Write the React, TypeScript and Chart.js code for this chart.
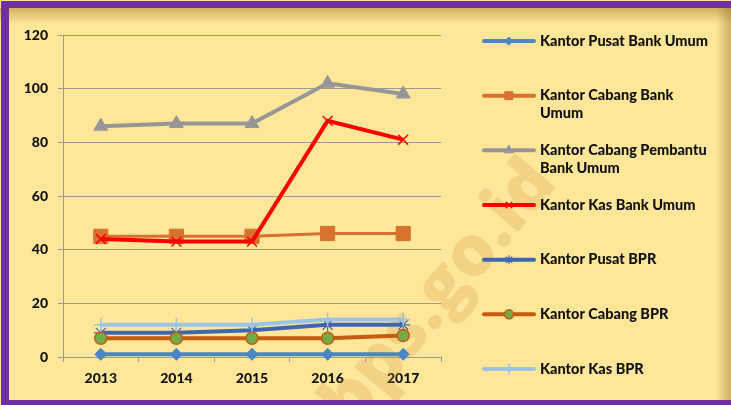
import React, { useEffect, useRef } from "react";
import { Chart, registerables } from "chart.js";
import { drawPoint } from "chart.js/helpers";

Chart.register(...registerables);

const years = ["2013", "2014", "2015", "2016", "2017"];
const pusatBankUmum = [1, 1, 1, 1, 1];
const cabangBankUmum = [45, 45, 45, 46, 46];
const cabangPembantuBankUmum = [86, 87, 87, 102, 98];
const kasBankUmum = [44, 43, 43, 88, 81];
const pusatBPR = [9, 9, 10, 12, 12];
const cabangBPR = [7, 7, 7, 7, 8];
const kasBPR = [12, 12, 12, 14, 14];

const seriesNames = [
  "Kantor Pusat Bank Umum",
  "Kantor Cabang Bank Umum",
  "Kantor Cabang Pembantu Bank Umum",
  "Kantor Kas Bank Umum",
  "Kantor Pusat BPR",
  "Kantor Cabang BPR",
  "Kantor Kas BPR",
];
const legendLines = [
  ["Kantor Pusat Bank Umum"],
  ["Kantor Cabang Bank", "Umum"],
  ["Kantor Cabang Pembantu", "Bank Umum"],
  ["Kantor Kas Bank Umum"],
  ["Kantor Pusat BPR"],
  ["Kantor Cabang BPR"],
  ["Kantor Kas BPR"],
];
const yMin = 0;
const yMax = 120;
const yStep = 20;
const watermarkText = "bps.go.id";

const FONT = "Lato, 'Open Sans', sans-serif";

const styles = [
  { line: "#4A86C6", fill: "#4A86C6", border: "#4A86C6", point: "rectRot", r: 6, lr: 4, bw: 1, lw: 4 },
  { line: "#D8712E", fill: "#D8712E", border: "#D8712E", point: "rect", r: 10, lr: 5.5, bw: 1, lw: 3 },
  { line: "#969696", fill: "#969696", border: "#969696", point: "triangle", r: 8, lr: 5, bw: 1, lw: 4 },
  { line: "#FF0000", fill: "#FF0000", border: "#FF0000", point: "crossRot", r: 7, lr: 4, bw: 1.5, lw: 4 },
  { line: "#3F66B0", fill: "#3F66B0", border: "#3F66B0", point: "star", r: 7, lr: 4, bw: 1.2, lw: 4 },
  { line: "#C55A11", fill: "#70AD47", border: "#C55A11", point: "circle", r: 6, lr: 4.5, bw: 1.5, lw: 4 },
  { line: "#9DC3E6", fill: "#9DC3E6", border: "#9DC3E6", point: "cross", r: 7, lr: 5, bw: 1.5, lw: 4 },
];

const bgPlugin = {
  id: "bgPlugin",
  beforeDraw(chart: any) {
    const ctx = chart.ctx;
    const W = chart.width;
    const H = chart.height;
    ctx.save();
    ctx.fillStyle = "#FFE699";
    ctx.fillRect(0, 0, W, H);
    let g = ctx.createLinearGradient(0, 8, 0, 24);
    g.addColorStop(0, "rgba(150,110,30,0.45)");
    g.addColorStop(1, "rgba(150,110,30,0)");
    ctx.fillStyle = g;
    ctx.fillRect(0, 8, W, 16);
    g = ctx.createLinearGradient(716, 0, W, 0);
    g.addColorStop(0, "rgba(140,110,40,0)");
    g.addColorStop(1, "rgba(140,110,40,0.45)");
    ctx.fillStyle = g;
    ctx.fillRect(716, 8, W - 716, H);
    ctx.fillStyle = "#7030A0";
    ctx.fillRect(1, 1, W - 1, 7);
    ctx.fillRect(1, 1, 8, H - 1);
    ctx.fillRect(1, 400, W - 1, H - 400);
    ctx.restore();
  },
  beforeDatasetsDraw(chart: any) {
    const ctx = chart.ctx;
    ctx.save();
    ctx.beginPath();
    ctx.rect(9, 8, chart.width - 9, 392);
    ctx.clip();
    ctx.translate(440, 294);
    ctx.rotate(-50 * Math.PI / 180);
    ctx.font = `900 70px 'Open Sans', Arial, sans-serif`;
    ctx.fillStyle = "rgba(200,150,70,0.24)";
    ctx.textAlign = "center";
    ctx.textBaseline = "middle";
    ctx.fillText(watermarkText, 0, 0);
    ctx.restore();
  },
};

const legendPlugin = {
  id: "customLegend",
  afterDraw(chart: any) {
    const ctx = chart.ctx;
    ctx.save();
    chart.data.datasets.forEach((ds: any, i: number) => {
      const st = styles[i];
      const y = 41 + i * 54.67;
      ctx.strokeStyle = st.line;
      ctx.lineWidth = 4;
      ctx.lineCap = "round";
      ctx.beginPath();
      ctx.moveTo(484, y);
      ctx.lineTo(534, y);
      ctx.stroke();
      ctx.fillStyle = st.fill;
      ctx.strokeStyle = st.border;
      ctx.lineWidth = st.bw;
      drawPoint(ctx, { pointStyle: st.point, radius: st.lr, rotation: 0, borderWidth: st.bw }, 509, y);
      ctx.fillStyle = "#111";
      ctx.font = `900 14.5px ${FONT}`;
      ctx.textAlign = "left";
      ctx.textBaseline = "middle";
      legendLines[i].forEach((t, j) => ctx.fillText(t, 540, y + j * 18));
    });
    ctx.restore();
  },
};

export default function App() {
  const ref = useRef<HTMLCanvasElement>(null);
  useEffect(() => {
    if (!ref.current) return;
    const series = [pusatBankUmum, cabangBankUmum, cabangPembantuBankUmum, kasBankUmum, pusatBPR, cabangBPR, kasBPR];
    const chart = new Chart(ref.current, {
      type: "line",
      data: {
        labels: years,
        datasets: series.map((d, i) => ({
          label: seriesNames[i],
          data: d,
          borderColor: styles[i].line,
          borderWidth: styles[i].lw,
          backgroundColor: styles[i].fill,
          pointStyle: styles[i].point as any,
          pointRadius: styles[i].r,
          pointBackgroundColor: styles[i].fill,
          pointBorderColor: styles[i].border,
          pointBorderWidth: styles[i].bw,
          tension: 0,
          fill: false,
          order: -i,
          clip: false as any,
        })),
      },
      options: {
        responsive: false,
        animation: false,
        devicePixelRatio: 1,
        layout: { padding: { left: 0, top: 35, right: 290, bottom: 0 } },
        plugins: { legend: { display: false }, tooltip: { enabled: false } },
        scales: {
          x: {
            type: "category",
            offset: true,
            grid: { offset: true, drawOnChartArea: false, drawTicks: true, tickLength: 5, color: "#999999" },
            border: { color: "#999999", width: 1 },
            ticks: { color: "#111", font: { family: FONT, size: 14, weight: "900" }, padding: 8 },
            afterFit: (s: any) => { s.height = 48; },
          },
          y: {
            min: yMin,
            max: yMax,
            ticks: { stepSize: yStep, color: "#111", font: { family: FONT, size: 14, weight: "900" }, padding: 10 },
            grid: { color: "#999999", tickLength: 5, lineWidth: 1 },
            border: { color: "#999999", width: 1 },
            afterFit: (s: any) => { s.width = 63; },
          },
        },
      },
      plugins: [bgPlugin, legendPlugin],
    });
    return () => chart.destroy();
  }, []);
  return (
    <div style={{ position: "fixed", left: 0, top: 0, width: 731, height: 405 }}>
      <canvas ref={ref} width={731} height={405} style={{ display: "block", width: 731, height: 405 }} />
    </div>
  );
}
